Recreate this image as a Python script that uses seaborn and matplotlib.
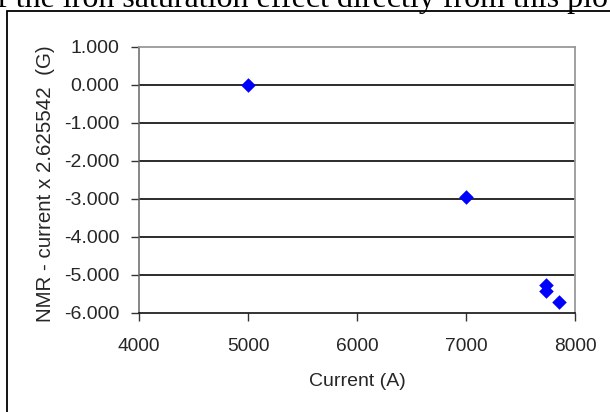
import matplotlib
matplotlib.use("Agg")
import matplotlib.pyplot as plt
import seaborn as sns
import pandas as pd
from matplotlib.patches import Rectangle

current = [5000, 7000, 7730, 7730, 7855]
nmr_diff = [0.0, -2.96, -5.28, -5.44, -5.71]
x_ticks = [4000, 5000, 6000, 7000, 8000]
y_ticks = [1.0, 0.0, -1.0, -2.0, -3.0, -4.0, -5.0, -6.0]
y_tick_labels = ["1.000", "0.000", "-1.000", "-2.000", "-3.000", "-4.000", "-5.000", "-6.000"]

sns.set_style("white")
plt.rcParams['font.family'] = ['Liberation Sans', 'DejaVu Sans']

df = pd.DataFrame({"Current (A)": current, "NMR": nmr_diff})

fig = plt.figure(figsize=(6.10, 4.12), dpi=100)
ax = fig.add_axes([139/610, 1 - 312.6/412, (575.3 - 139)/610, (312.6 - 46.7)/412])

sns.scatterplot(data=df, x="Current (A)", y="NMR", ax=ax, marker="D", s=55,
                color="#0000FF", linewidth=0, zorder=5)

ax.set_xlim(4000, 8000)
ax.set_ylim(-6.0, 1.0)
ax.set_xticks(x_ticks)
ax.set_xticklabels([str(v) for v in x_ticks], fontsize=13.8)
ax.set_yticks(y_ticks)
ax.set_yticklabels(y_tick_labels, fontsize=14)
ax.set_xlabel("Current (A)", fontsize=14)
ax.set_ylabel("NMR - current x 2.625542  (G)", fontsize=14.8)
ax.xaxis.set_label_coords(0.5, (312.6 - 373) / 265.9)
ax.yaxis.set_label_coords((45 - 139) / 436.3, 0.485)
ax.yaxis.label.set_va("center")

for v in y_ticks[1:-1]:
    ax.axhline(v, color="#1a1a1a", linewidth=1.3, zorder=1)

ax.spines["bottom"].set_color("#111111")
ax.spines["bottom"].set_linewidth(1.2)
ax.spines["left"].set_color("#666666")
ax.spines["left"].set_linewidth(1.1)
for side in ["top", "right"]:
    ax.spines[side].set_color("#999999")
    ax.spines[side].set_linewidth(1.3)
ax.tick_params(axis="x", direction="out", length=6, width=1, color="#333333",
               bottom=True, pad=12)
ax.tick_params(axis="y", direction="out", length=6, width=1, color="#333333",
               left=True, pad=8)

# outer frame of the embedded chart
fig.patches.append(Rectangle((7/610, -0.1), 1.2, 1 - 11/412 + 0.1, transform=fig.transFigure,
                             fill=False, edgecolor="black", linewidth=1.3, clip_on=False))

# cut-off line of document text above the chart
fig.text(-3/610, 1 - 7.5/412, "f the iron saturation effect directly from this plo",
         family=["Liberation Serif", "DejaVu Serif"], fontsize=23, ha="left",
         va="baseline", color="black")

fig.savefig("out.png", dpi=100)
